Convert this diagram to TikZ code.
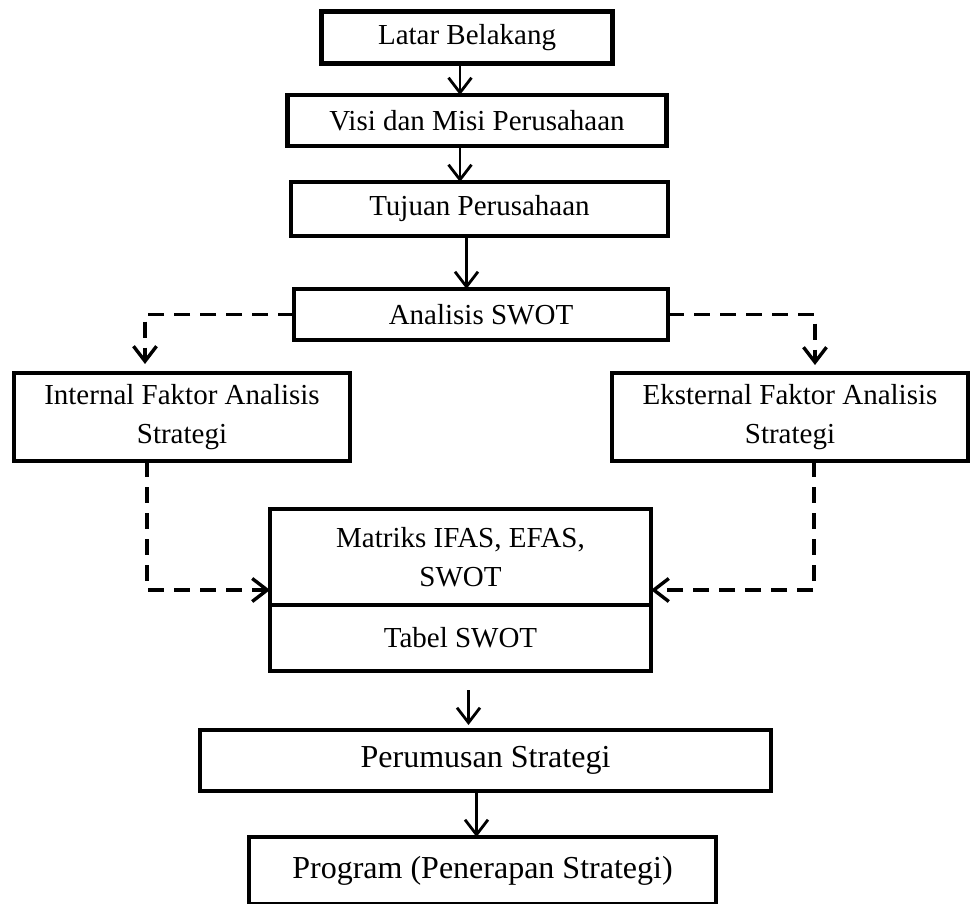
\documentclass[tikz,border=0pt]{standalone}
\usepackage{fontspec}
\setmainfont{Liberation Serif}
\usetikzlibrary{positioning,arrows.meta}
\tikzset{
flowbox/.style={
  rectangle, draw=black, line width=4.5pt,
  inner sep=0pt, outer sep=0pt,
  align=center, text=black,
  font=\fontsize{29}{39}\selectfont
  },
bigbox/.style={
  flowbox, font=\fontsize{32}{40}\selectfont
  },
flowarr/.style={
  -{Straight Barb[length=15pt,width=23pt]},
  line width=2.8pt
  },
dsarr/.style={
  flowarr, line width=3.4pt,
  dash pattern=on 16pt off 10pt
  }
}

\begin{document}
\begin{tikzpicture}[x=1pt,y=-1pt]
\useasboundingbox (0,0) rectangle (972,904);

\node[flowbox,minimum width=291pt,minimum height=52pt]
  at (467,37.5) (lat) {Latar Belakang};
\node[flowbox,minimum width=379pt,minimum height=51pt]
  at (477,120.5) (visi) {Visi dan Misi Perusahaan};
\node[flowbox,minimum width=377pt,minimum height=54pt]
  at (479.5,209) (tuj) {Tujuan Perusahaan};
\node[flowbox,minimum width=374pt,minimum height=51pt]
  at (481,314.5) (swot) {Analisis SWOT};

\node[flowbox,minimum width=336pt,minimum height=88pt]
  at (182,417) (ifas) {Internal Faktor Analisis\\Strategi};
\node[flowbox,minimum width=356pt,minimum height=88pt]
  at (790,417) (efas) {Eksternal Faktor Analisis\\Strategi};

% kotak matriks dua bagian
\node[flowbox,minimum width=381pt,minimum height=96pt]
  at (460.5,557) (mat) {Matriks IFAS, EFAS,\\SWOT};
\node[flowbox,minimum width=381pt,minimum height=66pt,
  below=0pt of mat] (tabel) {Tabel SWOT};

\node[bigbox,minimum width=571pt,minimum height=61pt]
  at (485.5,760.5) (rumus) {Perumusan Strategi};
\node[bigbox,minimum width=467pt,minimum height=67pt]
  at (482.5,870.5) (prog) {Program (Penerapan Strategi)};

\coordinate (ifasin) at ([xshift=-37pt,yshift=9pt]ifas.north);
\coordinate (efasin) at ([xshift=25pt,yshift=8pt]efas.north);
\coordinate (matL) at ([yshift=15pt]mat.south west);
\coordinate (matR) at ([yshift=15pt]mat.south east);

\draw[flowarr]
  ([xshift=-7pt]lat.south) -- ([xshift=-7pt]lat.south |- visi.north);
\draw[flowarr]
  ([xshift=-17pt]visi.south) -- ([xshift=-17pt]visi.south |- tuj.north);
\draw[flowarr]
  ([xshift=-13pt]tuj.south) -- ([xshift=-13pt]tuj.south |- swot.north);

\draw[dsarr] (swot.west) -| (ifasin);
\draw[dsarr] (swot.east) -| (efasin);
\draw[dsarr] ([xshift=-35pt]ifas.south) |- (matL);
\draw[dsarr] ([xshift=24pt]efas.south) |- (matR);

\draw[flowarr,shorten <=19pt,shorten >=5pt]
  ([xshift=8pt]tabel.south) -- ([xshift=8pt]tabel.south |- rumus.north);
\draw[flowarr]
  ([xshift=-9pt]rumus.south) -- ([xshift=-9pt]rumus.south |- prog.north);

\end{tikzpicture}
\end{document}
